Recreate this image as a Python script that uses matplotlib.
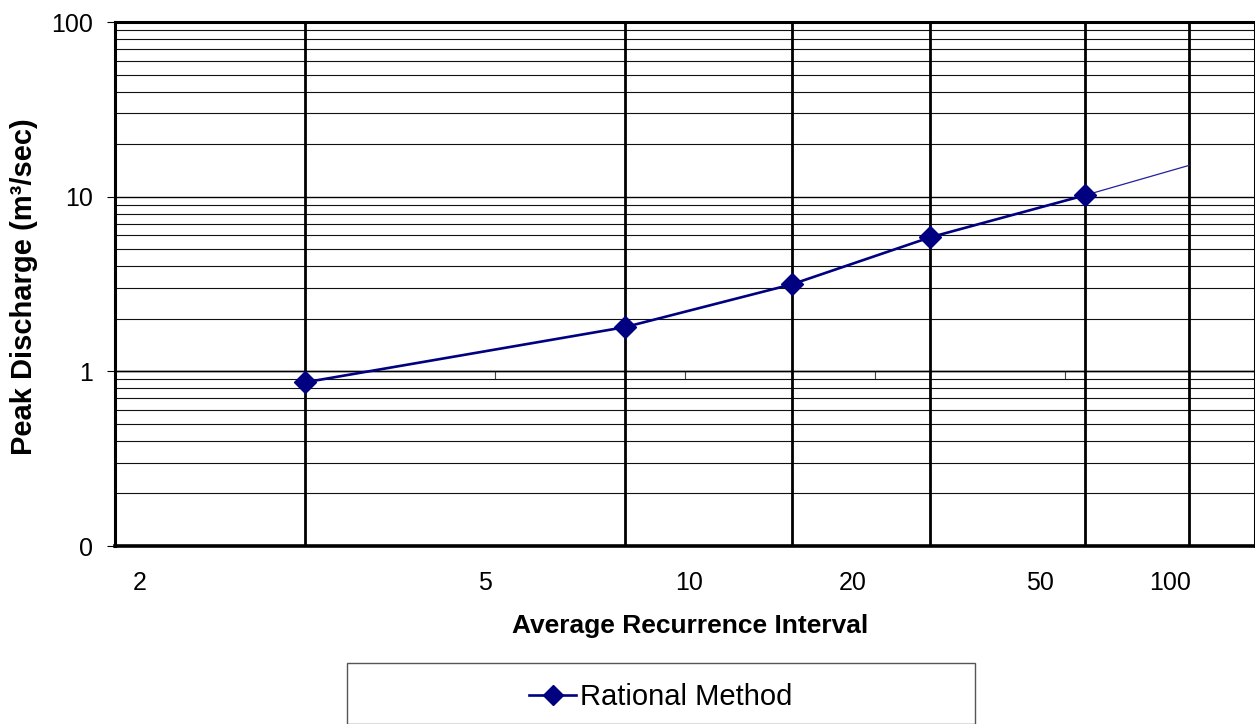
import numpy as np
import matplotlib
matplotlib.use("Agg")
import matplotlib.pyplot as plt
from matplotlib.patches import Rectangle
from matplotlib.lines import Line2D
from statistics import NormalDist

plt.rcParams['font.family'] = ['Liberation Sans', 'DejaVu Sans']

# ---- data ----
recurrence = [2, 5, 10, 20, 50]                 # average recurrence interval (years)
peak_q = [0.865, 1.79, 3.15, 5.85, 10.2]        # peak discharge m3/s
ext_recurrence = [50, 100]                      # extension of the curve
ext_q = [10.2, 15.1]
grid_recurrence = [2, 5, 10, 20, 50, 100]       # vertical reference lines
bottom_labels = ['2', '5', '10', '20', '50', '100']
y_ticks = [0.1, 1, 10, 100]
y_ticklabels = ['0', '1', '10', '100']

nd = NormalDist()
def to_z(T):
    return [nd.inv_cdf(1 - 1 / t) for t in T]

navy = '#000080'

W, H = 1255, 724
fig = plt.figure(figsize=(W / 100, H / 100), dpi=100)
ax = fig.add_axes([115 / W, (H - 546) / H, 1140 / W, 524 / H])

ax.set_yscale('log')
ax.set_ylim(0.1, 100)
ax.set_xlim(-0.5, 2.5)

# horizontal gridlines (major + minor)
ax.set_yticks(y_ticks)
ax.set_yticklabels(y_ticklabels, fontsize=18)
ax.yaxis.set_minor_locator(matplotlib.ticker.LogLocator(base=10, subs=np.arange(2, 10)))
ax.yaxis.set_minor_formatter(matplotlib.ticker.NullFormatter())
ax.grid(True, which='major', axis='y', color='black', lw=1.0)
ax.grid(True, which='minor', axis='y', color='#111111', lw=0.8)
ax.tick_params(axis='y', which='major', direction='out', length=6, width=0.8, pad=10, colors='black')
ax.tick_params(axis='y', which='minor', length=0)

# x axis crossing at y = 1 with small ticks, hidden labels
ax.spines['bottom'].set_position(('data', 1))
ax.spines['bottom'].set_linewidth(1.0)
ax.set_xticks(np.arange(-0.5, 2.51, 0.5))
ax.set_xticklabels([])
ax.tick_params(axis='x', direction='out', length=6, width=0.8, colors='#444444')

ax.spines['left'].set_linewidth(2.2)
ax.spines['top'].set_linewidth(2.2)
ax.spines['right'].set_linewidth(2.2)
for s in ax.spines.values():
    s.set_color('black')

# bottom border of plot area
ax.axhline(0.1, color='black', lw=2.6, clip_on=False, zorder=3)

# vertical reference lines
for z in to_z(grid_recurrence):
    ax.axvline(z, color='black', lw=2.0, zorder=2)

# series
ax.plot(to_z(ext_recurrence), ext_q, color='#2020a0', lw=0.9, zorder=4)
ax.plot(to_z(recurrence), peak_q, color=navy, lw=1.9, marker='D', ms=11.5,
        markerfacecolor=navy, markeredgecolor=navy, zorder=5)

# bottom category labels
label_pos = [(140 - 115) / 1140, (485 - 115) / 1140, (689 - 115) / 1140,
             (853 - 115) / 1140, (1040 - 115) / 1140, (1170 - 115) / 1140]
for lab, xp in zip(bottom_labels, label_pos):
    ax.text(xp, (546 - 583) / 524, lab, transform=ax.transAxes, ha='center',
            va='center', fontsize=18)

fig.text(690 / W, 1 - 626 / H, 'Average Recurrence Interval', ha='center',
         va='center', fontsize=19, fontweight='bold')
fig.text(24 / W, 1 - 287 / H, 'Peak Discharge (m³/sec)', ha='center', va='center',
         rotation=90, fontsize=21, fontweight='bold')

# legend box
fig.patches.append(Rectangle((347 / W, 0), (975 - 347) / W, (H - 670) / H + 0.01,
                             transform=fig.transFigure, facecolor='white',
                             edgecolor='#555555', lw=1.0))
handle = Line2D([], [], color=navy, lw=1.9, marker='D', ms=10,
                markerfacecolor=navy, markeredgecolor=navy)
fig.legend([handle], ['Rational Method'], loc='center',
           bbox_to_anchor=(661 / W, 1 - 697 / H), frameon=False, fontsize=21,
           handlelength=1.6, handletextpad=0.15)

fig.savefig('out.png', dpi=100)
